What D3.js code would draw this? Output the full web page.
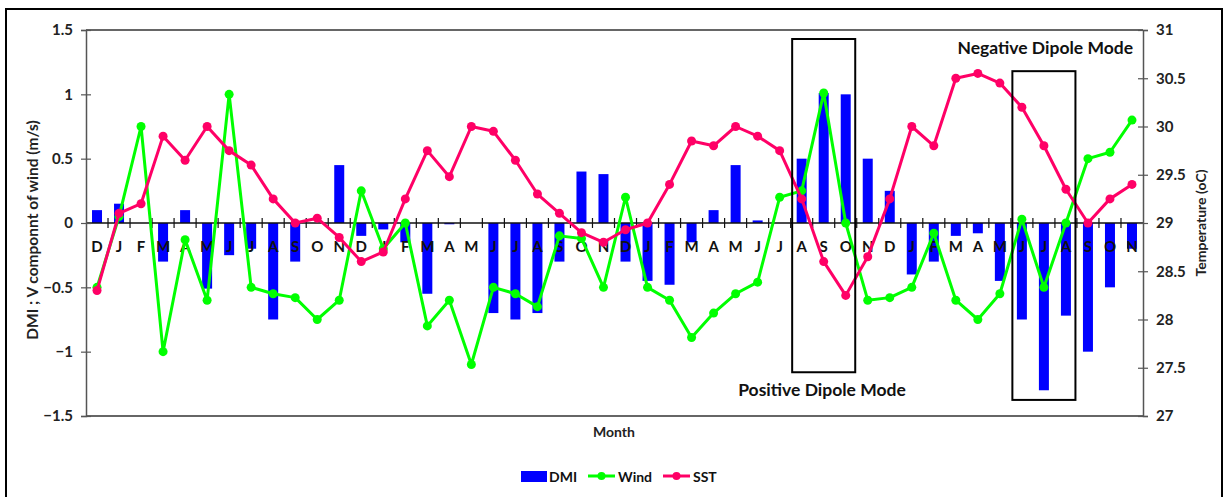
<!DOCTYPE html>
<html>
<head>
<meta charset="utf-8">
<script src="https://cdn.jsdelivr.net/npm/d3@7"></script>
<style>
  html, body { margin: 0; padding: 0; background: #fff; }
  svg { display: block; font-family: "Lato", "Open Sans", sans-serif; }
</style>
</head>
<body>
<svg id="chart" width="1225" height="497"></svg>
<script>
// Monthly labels, Dec through Nov, four seasons
const months = [
  "D","J","F","M","A","M","J","J","A","S","O","N",
  "D","J","F","M","A","M","J","J","A","S","O","N",
  "D","J","F","M","A","M","J","J","A","S","O","N",
  "D","J","F","M","A","M","J","J","A","S","O","N"
];

// Dipole Mode Index
const dmi = [
  0.10, 0.15, 0.00, -0.30, 0.10, -0.51, -0.25, -0.20, -0.75, -0.30, 0.00, 0.45,
  -0.10, -0.05, -0.15, -0.55, -0.01, 0.00, -0.70, -0.75, -0.70, -0.30, 0.40, 0.38,
  -0.30, -0.45, -0.48, -0.15, 0.10, 0.45, 0.02, 0.00, 0.50, 1.01, 1.00, 0.50,
  0.25, -0.40, -0.30, -0.10, -0.08, -0.45, -0.75, -1.30, -0.72, -1.00, -0.50, -0.20
];

// Meridional (V) wind component, m/s
const wind = [
  -0.50, 0.05, 0.75, -1.00, -0.13, -0.60, 1.00, -0.50, -0.55, -0.58, -0.75, -0.60,
  0.25, -0.20, 0.00, -0.80, -0.60, -1.10, -0.50, -0.55, -0.65, -0.10, -0.12, -0.50,
  0.20, -0.50, -0.60, -0.89, -0.70, -0.55, -0.46, 0.20, 0.25, 1.01, 0.00, -0.60,
  -0.58, -0.50, -0.08, -0.60, -0.75, -0.55, 0.03, -0.50, 0.00, 0.50, 0.55, 0.80
];

// Sea surface temperature, °C
const sst = [
  28.30, 29.10, 29.20, 29.90, 29.65, 30.00, 29.75, 29.60, 29.25, 29.00, 29.05, 28.85,
  28.60, 28.70, 29.25, 29.75, 29.48, 30.00, 29.95, 29.65, 29.30, 29.10, 28.90, 28.80,
  28.93, 29.00, 29.40, 29.85, 29.80, 30.00, 29.90, 29.75, 29.25, 28.60, 28.25, 28.65,
  29.25, 30.00, 29.80, 30.50, 30.55, 30.45, 30.20, 29.80, 29.35, 29.00, 29.25, 29.40
];

const leftTicks = [-1.5, -1, -0.5, 0, 0.5, 1, 1.5];
const rightTicks = [27, 27.5, 28, 28.5, 29, 29.5, 30, 30.5, 31];

// Highlighted dipole episodes: month index range and left-axis extent
const boxes = [
  { name: "Positive Dipole Mode", from: 32, to: 34, lo: -1.16, hi: 1.43 },
  { name: "Negative Dipole Mode", from: 42, to: 44, lo: -1.375, hi: 1.18 }
];

const svg = d3.select("#chart");
const plot = { left: 86, right: 1143, top: 30, bottom: 416 };

const C = { dmi: "#0000ff", wind: "#00ff00", sst: "#ff0066", axis: "#555", text: "#222" };

// outer frame
svg.append("rect")
  .attr("x", 6).attr("y", 9).attr("width", 1216).attr("height", 500)
  .attr("fill", "none").attr("stroke", "#000").attr("stroke-width", 2);

const x = d3.scaleBand()
  .domain(d3.range(months.length))
  .range([plot.left, plot.right]);

const yL = d3.scaleLinear().domain([-1.5, 1.5]).range([plot.bottom, plot.top]);
const yR = d3.scaleLinear().domain([27, 31]).range([plot.bottom, plot.top]);
const step = x.step();
const cx = i => x(i) + step / 2;

// plot area border (top / bottom)
svg.append("line").attr("x1", plot.left).attr("x2", plot.right)
  .attr("y1", plot.top).attr("y2", plot.top)
  .attr("stroke", "#666").attr("stroke-width", 2);
svg.append("line").attr("x1", plot.left).attr("x2", plot.right)
  .attr("y1", plot.bottom).attr("y2", plot.bottom)
  .attr("stroke", "#666").attr("stroke-width", 2);

// DMI bars
svg.append("g").selectAll("rect").data(dmi).join("rect")
  .attr("x", (d, i) => cx(i) - 5)
  .attr("width", 10)
  .attr("y", d => yL(Math.max(0, d)))
  .attr("height", d => Math.abs(yL(d) - yL(0)))
  .attr("fill", C.dmi);

// Zero line with category ticks
const zeroAxis = svg.append("g").attr("transform", `translate(0,${yL(0)})`);
zeroAxis.append("line").attr("x1", plot.left).attr("x2", plot.right)
  .attr("stroke", "#111").attr("stroke-width", 1.5);
zeroAxis.selectAll("line.tk").data(d3.range(1, months.length)).join("line")
  .attr("class", "tk")
  .attr("x1", i => x(i)).attr("x2", i => x(i))
  .attr("y1", -5).attr("y2", 5)
  .attr("stroke", "#111").attr("stroke-width", 1.2);
zeroAxis.selectAll("text").data(months).join("text")
  .attr("x", (d, i) => cx(i)).attr("y", 29)
  .attr("text-anchor", "middle")
  .attr("font-size", 15).attr("font-weight", 700).attr("fill", "#111")
  .text(d => d);

// Wind line
const windLine = d3.line().x((d, i) => cx(i)).y(d => yL(d));
svg.append("path").datum(wind)
  .attr("d", windLine).attr("fill", "none")
  .attr("stroke", C.wind).attr("stroke-width", 3).attr("stroke-linejoin", "round");
svg.append("g").selectAll("circle").data(wind).join("circle")
  .attr("cx", (d, i) => cx(i)).attr("cy", d => yL(d)).attr("r", 4.5)
  .attr("fill", C.wind);

// SST line
const sstLine = d3.line().x((d, i) => cx(i)).y(d => yR(d));
svg.append("path").datum(sst)
  .attr("d", sstLine).attr("fill", "none")
  .attr("stroke", C.sst).attr("stroke-width", 3).attr("stroke-linejoin", "round");
svg.append("g").selectAll("circle").data(sst).join("circle")
  .attr("cx", (d, i) => cx(i)).attr("cy", d => yR(d)).attr("r", 4.5)
  .attr("fill", C.sst);

// Left axis
const gL = svg.append("g").attr("transform", `translate(${plot.left},0)`)
  .call(d3.axisLeft(yL).tickValues(leftTicks).tickSize(5).tickFormat(d3.format("")));
gL.select(".domain").attr("stroke", C.axis).attr("stroke-width", 1.5);
gL.selectAll(".tick line").attr("x1", 5).attr("x2", -5).attr("stroke", C.axis).attr("stroke-width", 1.2);
gL.selectAll(".tick text").attr("x", -13).attr("font-size", 15).attr("font-family", "Lato")
  .attr("font-weight", 700).attr("fill", C.text);

// Right axis
const gR = svg.append("g").attr("transform", `translate(${plot.right},0)`)
  .call(d3.axisRight(yR).tickValues(rightTicks).tickSize(5).tickFormat(d3.format("")));
gR.select(".domain").attr("stroke", C.axis).attr("stroke-width", 1.5);
gR.selectAll(".tick line").attr("x1", -5).attr("x2", 5).attr("stroke", C.axis).attr("stroke-width", 1.2);
gR.selectAll(".tick text").attr("x", 13).attr("font-size", 15).attr("font-family", "Lato")
  .attr("font-weight", 700).attr("fill", C.text);

// Axis titles
svg.append("text")
  .attr("transform", `translate(38,230) rotate(-90)`)
  .attr("text-anchor", "middle").attr("font-size", 15.5).attr("font-weight", 700).attr("fill", C.text)
  .text("DMI ; V componnt of wind (m/s)");
svg.append("text")
  .attr("transform", `translate(1206,223) rotate(-90)`)
  .attr("text-anchor", "middle").attr("font-size", 14).attr("font-weight", 700).attr("fill", C.text)
  .text("Temperature (oC)");
svg.append("text")
  .attr("x", 614).attr("y", 437)
  .attr("text-anchor", "middle").attr("font-size", 14).attr("font-weight", 700).attr("fill", C.text)
  .text("Month");

// Dipole episode boxes
svg.append("g").selectAll("rect").data(boxes).join("rect")
  .attr("x", b => x(b.from) + 1.5)
  .attr("width", b => step * (b.to - b.from + 1) - 3)
  .attr("y", b => yL(b.hi))
  .attr("height", b => yL(b.lo) - yL(b.hi))
  .attr("fill", "none").attr("stroke", "#000").attr("stroke-width", 2);

svg.append("text").attr("x", 822).attr("y", 396)
  .attr("text-anchor", "middle").attr("font-size", 17.5).attr("font-weight", 700).attr("fill", "#111")
  .text(boxes[0].name);
svg.append("text").attr("x", 1133).attr("y", 54)
  .attr("text-anchor", "end").attr("font-size", 17.5).attr("font-weight", 700).attr("fill", "#111")
  .text(boxes[1].name);

// Legend
const lg = svg.append("g").attr("font-size", 14).attr("font-weight", 700).attr("fill", "#111");
lg.append("rect").attr("x", 521).attr("y", 471).attr("width", 26).attr("height", 11).attr("fill", C.dmi);
lg.append("text").attr("x", 549).attr("y", 482).text("DMI");
lg.append("line").attr("x1", 588).attr("x2", 615).attr("y1", 476).attr("y2", 476)
  .attr("stroke", C.wind).attr("stroke-width", 3);
lg.append("circle").attr("cx", 601.5).attr("cy", 476).attr("r", 4).attr("fill", C.wind);
lg.append("text").attr("x", 618).attr("y", 482).text("Wind");
lg.append("line").attr("x1", 663).attr("x2", 690).attr("y1", 476).attr("y2", 476)
  .attr("stroke", C.sst).attr("stroke-width", 3);
lg.append("circle").attr("cx", 676.5).attr("cy", 476).attr("r", 4).attr("fill", C.sst);
lg.append("text").attr("x", 693).attr("y", 482).text("SST");
</script>
</body>
</html>
